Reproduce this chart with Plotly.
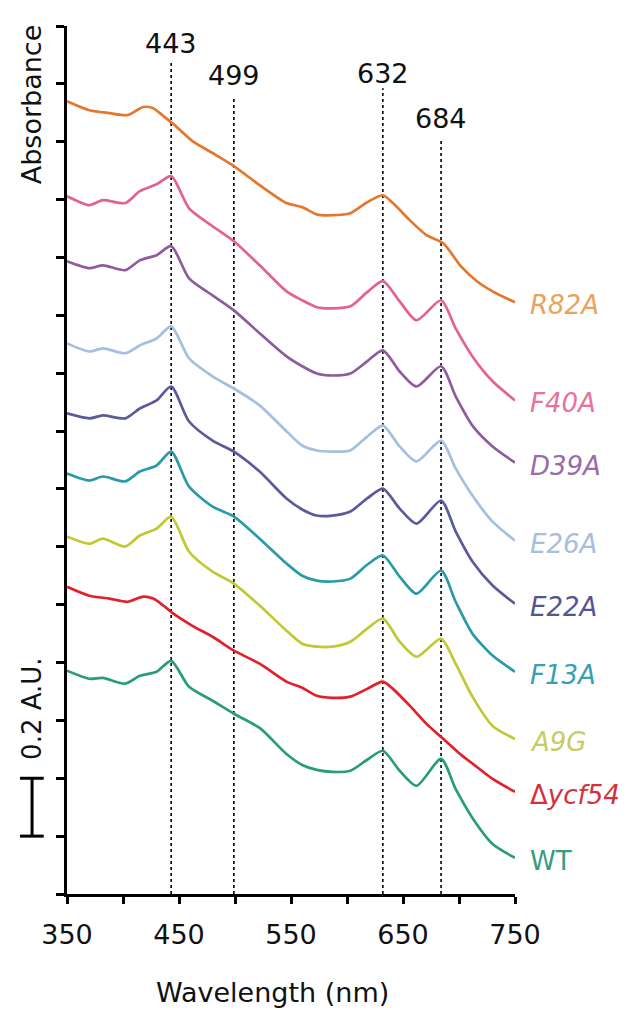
import plotly.graph_objects as go

# Wavelength grids (nm)
WL_A = [350, 370, 382, 402, 415, 430, 443, 459, 480, 499, 522, 546, 560, 573, 587,
        603, 618, 632, 647, 662, 684, 697, 712, 730, 750]
WL_B = [350, 370, 388, 404, 418, 427, 436, 445, 462, 480, 499, 522, 546, 560, 573,
        587, 603, 618, 632, 641, 656, 671, 686, 701, 716, 730, 750]

# Offset absorbance spectra (A.U.)
R82A = [2.740, 2.709, 2.699, 2.692, 2.720, 2.716, 2.689, 2.661, 2.602, 2.561, 2.516,
        2.450, 2.388, 2.374, 2.349, 2.346, 2.353, 2.391, 2.415, 2.388, 2.329, 2.277,
        2.249, 2.173, 2.118, 2.083, 2.045]
F40A = [2.412, 2.381, 2.398, 2.388, 2.429, 2.453, 2.481, 2.370, 2.308, 2.256, 2.173,
        2.083, 2.052, 2.028, 2.024, 2.031, 2.080, 2.118, 2.048, 1.983, 2.052, 1.955,
        1.858, 1.772, 1.706]
D39A = [2.187, 2.163, 2.173, 2.156, 2.190, 2.208, 2.239, 2.128, 2.069, 2.017, 1.938,
        1.858, 1.824, 1.799, 1.792, 1.799, 1.841, 1.879, 1.806, 1.754, 1.824, 1.720,
        1.619, 1.547, 1.491]
E26A = [1.903, 1.875, 1.886, 1.869, 1.896, 1.920, 1.962, 1.851, 1.789, 1.747, 1.689,
        1.599, 1.550, 1.533, 1.529, 1.533, 1.581, 1.619, 1.547, 1.495, 1.567, 1.471,
        1.377, 1.287, 1.221]
E22A = [1.661, 1.644, 1.654, 1.644, 1.678, 1.706, 1.754, 1.633, 1.567, 1.529, 1.460,
        1.367, 1.329, 1.308, 1.308, 1.322, 1.367, 1.401, 1.332, 1.280, 1.360, 1.253,
        1.149, 1.066, 1.003]
F13A = [1.453, 1.429, 1.443, 1.426, 1.460, 1.481, 1.529, 1.408, 1.339, 1.304, 1.228,
        1.142, 1.100, 1.083, 1.080, 1.090, 1.138, 1.170, 1.097, 1.038, 1.118, 1.010,
        0.900, 0.824, 0.768]
A9G = [1.235, 1.211, 1.228, 1.201, 1.239, 1.263, 1.304, 1.183, 1.114, 1.073, 0.997,
       0.910, 0.865, 0.855, 0.855, 0.872, 0.917, 0.952, 0.872, 0.820, 0.882, 0.796,
       0.682, 0.581, 0.536]
DYCF54 = [1.062, 1.031, 1.021, 1.010, 1.028, 1.021, 0.997, 0.969, 0.927, 0.889, 0.841,
          0.796, 0.734, 0.713, 0.685, 0.678, 0.682, 0.709, 0.734, 0.709, 0.651, 0.588,
          0.536, 0.484, 0.439, 0.398, 0.353]
WT = [0.772, 0.744, 0.747, 0.727, 0.754, 0.768, 0.806, 0.716, 0.668, 0.623, 0.574,
      0.484, 0.446, 0.429, 0.422, 0.426, 0.464, 0.495, 0.426, 0.374, 0.467, 0.363,
      0.263, 0.173, 0.125]

SERIES = [
    ("<i>R82A</i>", WL_B, R82A, "#e3782c", "#eba25c"),
    ("<i>F40A</i>", WL_A, F40A, "#e2638c", "#e8729c"),
    ("<i>D39A</i>", WL_A, D39A, "#8f5b9c", "#9a6aaa"),
    ("<i>E26A</i>", WL_A, E26A, "#a4bfe0", "#a8bedc"),
    ("<i>E22A</i>", WL_A, E22A, "#5a5a9c", "#555590"),
    ("<i>F13A</i>", WL_A, F13A, "#2a9aa8", "#3a9fb0"),
    ("<i>A9G</i>", WL_A, A9G, "#c2c832", "#c8cc60"),
    ("Δ<i>ycf54</i>", WL_B, DYCF54, "#e2202c", "#d43040"),
    ("WT", WL_A, WT, "#2a9c7c", "#3a9a80"),
]

PEAKS = [443, 499, 632, 684]
PEAK_LINE_TOP = [2.879, 2.758, 2.785, 2.606]
PEAK_LABEL_Y = [2.941, 2.830, 2.837, 2.682]

X_TICKS = [350, 400, 450, 500, 550, 600, 650, 700, 750]
X_TICK_TEXT = ["350", "", "450", "", "550", "", "650", "", "750"]

FONT = "DejaVu Sans"

fig = go.Figure()
for name, wl, vals, col, lcol in SERIES:
    fig.add_trace(go.Scatter(x=wl, y=vals, mode="lines", name=name,
                             line=dict(color=col, width=2.7, shape="spline", smoothing=0.7),
                             showlegend=False, hoverinfo="skip"))
    fig.add_annotation(x=wl[-1], y=vals[-1], xref="x", yref="y", text=name,
                       showarrow=False, xanchor="left", yanchor="middle",
                       xshift=13, yshift=-3,
                       font=dict(family=FONT, size=26, color=lcol))

for p, top, ly in zip(PEAKS, PEAK_LINE_TOP, PEAK_LABEL_Y):
    fig.add_shape(type="line", x0=p, x1=p, y0=0, y1=top, xref="x", yref="y",
                  line=dict(color="black", width=1.6, dash="dot"), layer="below")
    fig.add_annotation(x=p, y=ly, xref="x", yref="y", text=str(p), showarrow=False,
                       xanchor="center", yanchor="middle",
                       font=dict(family=FONT, size=27, color="#111"))

# Scale bar: 0.2 A.U.
fig.add_shape(type="line", x0=-0.078, x1=-0.078, y0=0.2, y1=0.4, xref="paper", yref="y",
              line=dict(color="black", width=3))
fig.add_shape(type="line", x0=-0.105, x1=-0.052, y0=0.2, y1=0.2, xref="paper", yref="y",
              line=dict(color="black", width=3))
fig.add_shape(type="line", x0=-0.105, x1=-0.052, y0=0.4, y1=0.4, xref="paper", yref="y",
              line=dict(color="black", width=3))
fig.add_annotation(x=-0.078, y=0.64, xref="paper", yref="y", text="0.2 A.U.",
                   textangle=-90, showarrow=False, xanchor="center", yanchor="middle",
                   font=dict(family=FONT, size=26, color="#111"))
fig.add_annotation(x=-0.080, y=2.73, xref="paper", yref="y", text="Absorbance",
                   textangle=-90, showarrow=False, xanchor="center", yanchor="middle",
                   font=dict(family=FONT, size=27, color="#111"))
fig.add_annotation(x=0.458, y=-0.113, xref="paper", yref="paper", text="Wavelength (nm)",
                   showarrow=False, xanchor="center", yanchor="middle",
                   font=dict(family=FONT, size=27, color="#111"))

fig.update_xaxes(range=[350, 750], tickvals=X_TICKS, ticktext=X_TICK_TEXT,
                 showgrid=False, zeroline=False, showline=True, linecolor="black",
                 linewidth=3, ticks="outside", ticklen=7, tickwidth=2.5, tickcolor="black",
                 ticklabelstandoff=8,
                 tickfont=dict(family=FONT, size=27, color="#111"))
fig.update_yaxes(range=[0, 3.0], dtick=0.2, tick0=0, showticklabels=False,
                 showgrid=False, zeroline=False, showline=True, linecolor="black",
                 linewidth=3, ticks="outside", ticklen=8, tickwidth=2.5, tickcolor="black")

# page body adds an 8px offset; margins compensate so the plot lands where the reference has it
fig.update_layout(width=636, height=1010, margin=dict(l=59, r=129, t=18, b=124),
                  plot_bgcolor="white", paper_bgcolor="white")

fig.write_html("out.html")
